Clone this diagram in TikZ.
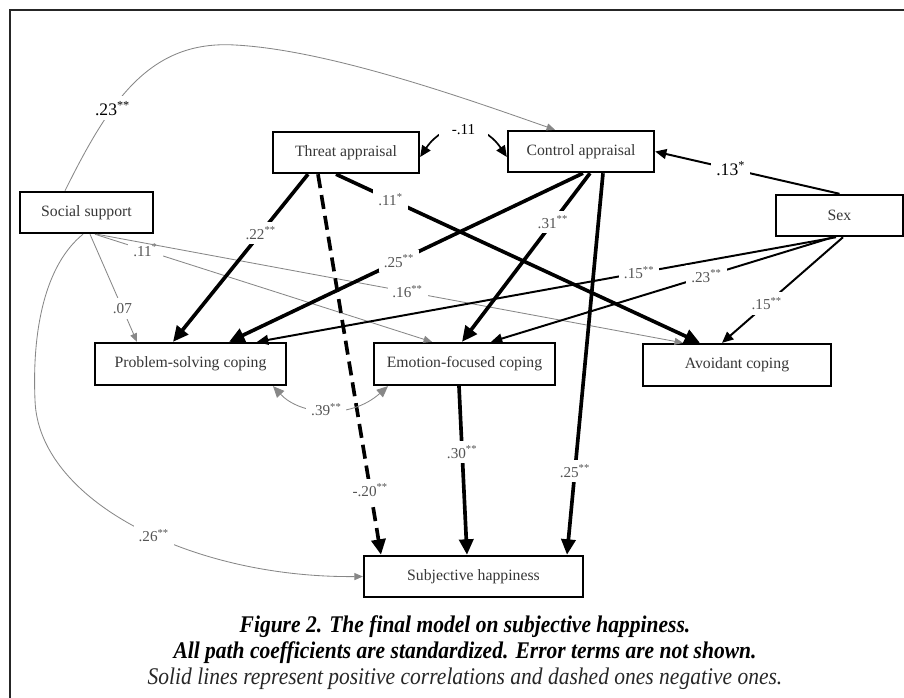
\documentclass[tikz,border=0pt]{standalone}
\usepackage{fontspec}
\setmainfont{Liberation Serif}
\newfontfamily\capfont[FakeStretch=0.9]{Liberation Serif}
\usetikzlibrary{arrows.meta}
\definecolor{linegray}{RGB}{135,135,135}
\definecolor{textgray}{RGB}{55,55,55}
\definecolor{labelgray}{RGB}{85,85,85}

\begin{document}
\begin{tikzpicture}[x=0.025cm,y=-0.025cm,
  box/.style={draw=black,line width=1.6pt,fill=white,text=textgray,
    font=\fontsize{11.2}{13}\selectfont,minimum height=1.03cm,inner sep=0pt},
  coef/.style={fill=white,text=labelgray,inner sep=3.5pt,font=\fontsize{10.8}{12}\selectfont},
  bigcoef/.style={coef,text=black,font=\fontsize{12.5}{14}\selectfont},
  strong/.style={line width=2.6pt,-{Triangle[length=11pt,width=10pt]}},
  neg/.style={strong,dash pattern=on 10pt off 5pt},
  mid/.style={line width=1.4pt,-{Triangle[length=8pt,width=7pt]}},
  weak/.style={line width=0.6pt,draw=linegray,-{Triangle[length=6pt,width=5pt]}},
  corr/.style={line width=1.2pt,{Triangle[length=8pt,width=7pt]}-{Triangle[length=8pt,width=7pt]}},
  capline/.style={anchor=base,inner sep=0pt}
]
  \useasboundingbox (0,0) rectangle (904,698);
  % outer frame (right side is cut off)
  \draw[line width=1.5pt,draw=black!85] (10,720) -- (10,10) -- (930,10);

  % boxes
  \node[box,minimum width=3.325cm] (ss) at (86.5,212.5) {Social support};
  \node[box,minimum width=3.65cm] (ta) at (346,152.5) {Threat appraisal};
  \node[box,minimum width=3.65cm] (ca) at (581,151.5) {Control appraisal};
  \node[box,minimum width=3.175cm] (sx) at (839.5,215.5) {Sex};
  \node[box,minimum width=4.775cm,minimum height=1.05cm] (ps) at (190.5,364) {Problem-solving coping};
  \node[box,minimum width=4.525cm,minimum height=1.05cm] (ef) at (464.5,364) {Emotion-focused coping};
  \node[box,minimum width=4.7cm,minimum height=1.05cm] (av) at (737,365) {Avoidant coping};
  \node[box,minimum width=5.475cm] (sh) at (473.5,576.5) {Subjective happiness};

  % paths from social support
  \draw[weak] (ss.north -| 65,0) .. controls (110,100) and (150,40) .. (235,45)
    node[bigcoef,pos=0.35] {.23\textsuperscript{**}}
    .. controls (330,50) and (470,100) .. (ca.north -| 555,0);
  \draw[weak] (ss.south -| 90,0) -- (ps.north -| 137,0) node[coef,pos=0.69] {.07};
  \draw[weak] (ss.south -| 95,0) -- (ef.north -| 432,0) node[coef,pos=0.15] {.11\textsuperscript{*}};
  \draw[weak] (ss.south -| 97,0) -- (av.north -| 683,0) node[coef,pos=0.53] {.16\textsuperscript{**}};
  \draw[weak] (ss.south -| 83,0) .. controls (45,265) and (32,330) .. (35,400)
    .. controls (38,500) and (190,578) .. (sh.west)
    node[coef,pos=0.55] {.26\textsuperscript{**}};

  % paths from threat appraisal
  \draw[strong] (ta.south -| 308,0) -- (ps.north -| 173,0) node[coef,pos=0.35] {.22\textsuperscript{**}};
  \draw[neg] (ta.south -| 318,0) -- (sh.north -| 381,0) node[coef,pos=0.83] {-.20\textsuperscript{**}};
  \draw[strong] (ta.south -| 336,0) -- (av.north -| 700,0) node[coef,pos=0.15] {.11\textsuperscript{*}};

  % paths from control appraisal
  \draw[strong] (ca.south -| 583,0) -- (ps.north -| 229,0) node[coef,pos=0.52] {.25\textsuperscript{**}};
  \draw[strong] (ca.south -| 590,0) -- (ef.north -| 462,0) node[coef,pos=0.29] {.31\textsuperscript{**}};
  \draw[strong] (ca.south -| 603,0) -- (sh.north -| 567,0) node[coef,pos=0.78] {.25\textsuperscript{**}};

  % emotion-focused coping to happiness
  \draw[strong] (ef.south -| 459,0) -- (sh.north -| 467,0) node[coef,pos=0.39] {.30\textsuperscript{**}};

  % paths from sex
  \draw[mid] (sx.north) -- (ca.east) node[bigcoef,pos=0.59] {.13\textsuperscript{*}};
  \draw[mid] (sx.south -| 836,0) -- (ps.north -| 257,0) node[coef,pos=0.34] {.15\textsuperscript{**}};
  \draw[mid] (sx.south -| 833,0) -- (ef.north -| 491,0) node[coef,pos=0.37] {.23\textsuperscript{**}};
  \draw[mid] (sx.south -| 843,0) -- (av.north -| 722,0) node[coef,pos=0.63] {.15\textsuperscript{**}};

  % correlations
  \draw[corr] (ta.east |- 0,157) .. controls (445,120) and (482,120) .. (ca.west |- 0,157)
    node[coef,text=black,pos=0.5,inner xsep=9pt] {-.11};
  \draw[corr,line width=0.6pt,draw=linegray] (ps.south -| 273,0) .. controls (300,415) and (350,420) .. (ef.south -| 388,0)
    node[coef,pos=0.5] {.39\textsuperscript{**}};

  % caption
  \node[capline,font=\capfont\fontsize{17}{19}\selectfont\bfseries\itshape] (cap1) at (465,632)
    {Figure 2. The final model on subjective happiness.};
  \node[capline,font=\capfont\fontsize{17}{19}\selectfont\bfseries\itshape] (cap2) at (465,658)
    {All path coefficients are standardized. Error terms are not shown.};
  \node[capline,font=\capfont\fontsize{17}{19}\selectfont\itshape,text=black!85] (cap3) at (465,684)
    {Solid lines represent positive correlations and dashed ones negative ones.};
\end{tikzpicture}
\end{document}
